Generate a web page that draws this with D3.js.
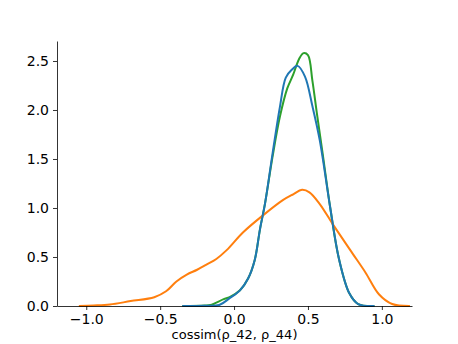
<!DOCTYPE html>
<html>
<head>
<meta charset="utf-8">
<script src="https://cdn.jsdelivr.net/npm/d3@7"></script>
<style>
  body { margin: 0; background: #fff; }
  svg { display: block; font-family: "DejaVu Sans", sans-serif; }
</style>
</head>
<body>
<svg></svg>
<script>
// KDE curves
const greenX  = [-0.35, -0.2, -0.16, -0.07, -0.03, 0.04, 0.095, 0.14, 0.175, 0.21, 0.26, 0.31, 0.36, 0.40, 0.44, 0.47, 0.50, 0.53, 0.56, 0.60, 0.65, 0.71, 0.78, 0.84, 0.95];
const greenY  = [0, 0.005, 0.01, 0.07, 0.09, 0.16, 0.28, 0.47, 0.78, 1.05, 1.52, 1.93, 2.22, 2.36, 2.52, 2.58, 2.56, 2.30, 1.97, 1.55, 1.01, 0.48, 0.13, 0.02, 0];

const orangeX = [-1.05, -0.95, -0.84, -0.70, -0.54, -0.46, -0.39, -0.32, -0.25, -0.19, -0.12, -0.05, 0.06, 0.20, 0.33, 0.40, 0.46, 0.51, 0.58, 0.67, 0.80, 0.89, 0.98, 1.07, 1.19];
const orangeY = [0, 0.005, 0.015, 0.05, 0.09, 0.15, 0.25, 0.32, 0.37, 0.42, 0.48, 0.57, 0.75, 0.93, 1.08, 1.14, 1.185, 1.16, 1.04, 0.83, 0.54, 0.34, 0.12, 0.02, 0];

const blueX   = [-0.35, -0.2, -0.10, -0.03, 0.04, 0.095, 0.14, 0.175, 0.21, 0.26, 0.31, 0.35, 0.39, 0.43, 0.48, 0.53, 0.58, 0.65, 0.71, 0.78, 0.84, 0.95];
const blueY   = [0, 0.002, 0.01, 0.08, 0.16, 0.28, 0.47, 0.78, 1.05, 1.55, 2.03, 2.33, 2.41, 2.45, 2.34, 2.04, 1.69, 1.01, 0.48, 0.13, 0.02, 0];

const xTicks = [-1.0, -0.5, 0.0, 0.5, 1.0];
const yTicks = [0.0, 0.5, 1.0, 1.5, 2.0, 2.5];
const xLabel = "cossim(ρ_42, ρ_44)";

const width = 458;
const height = 344;
const margin = {left: 57, right: 46, top: 41, bottom: 38};

const svg = d3.select('svg')
    .attr('width', width)
    .attr('height', height);

const x = d3.scaleLinear()
    .domain([-1.198, 1.204])
    .range([margin.left, width - margin.right]);
const y = d3.scaleLinear()
    .domain([0, 2.704])
    .range([height - margin.bottom, margin.top]);

const line = d3.line()
    .x(d => x(d[0]))
    .y(d => y(d[1]))
    .curve(d3.curveCatmullRom.alpha(0.5));

const series = [
  {xs: greenX, ys: greenY, color: '#2ca02c'},
  {xs: orangeX, ys: orangeY, color: '#ff7f0e'},
  {xs: blueX, ys: blueY, color: '#1f77b4'}
];

svg.append('g')
  .selectAll('path')
  .data(series)
  .enter()
  .append('path')
    .attr('fill', 'none')
    .attr('stroke', d => d.color)
    .attr('stroke-width', 2)
    .attr('stroke-linejoin', 'round')
    .attr('d', d => line(d.xs.map((v, i) => [v, d.ys[i]])));

// axes, matplotlib look
const fmt = d3.format('.1f');
const minus = v => fmt(v).replace('-', '\u2212');

const xAxis = svg.append('g')
    .attr('transform', `translate(0, ${height - margin.bottom})`)
    .call(d3.axisBottom(x).tickValues(xTicks).tickFormat(minus).tickSize(4).tickPadding(4).tickSizeOuter(0));
const yAxis = svg.append('g')
    .attr('transform', `translate(${margin.left}, 0)`)
    .call(d3.axisLeft(y).tickValues(yTicks).tickFormat(fmt).tickSize(4).tickPadding(4).tickSizeOuter(0));

[xAxis, yAxis].forEach(g => {
  g.selectAll('text')
    .attr('font-family', '"DejaVu Sans", sans-serif')
    .attr('font-size', 14)
    .attr('fill', '#000');
  g.selectAll('line').attr('stroke', '#000').attr('stroke-width', 0.8);
  g.select('.domain').attr('stroke', '#000').attr('stroke-width', 0.8);
});

svg.append('text')
    .attr('x', (x.range()[0] + x.range()[1]) / 2)
    .attr('y', 339)
    .attr('text-anchor', 'middle')
    .attr('font-size', 13)
    .attr('fill', '#000')
    .text(xLabel);
</script>
</body>
</html>
